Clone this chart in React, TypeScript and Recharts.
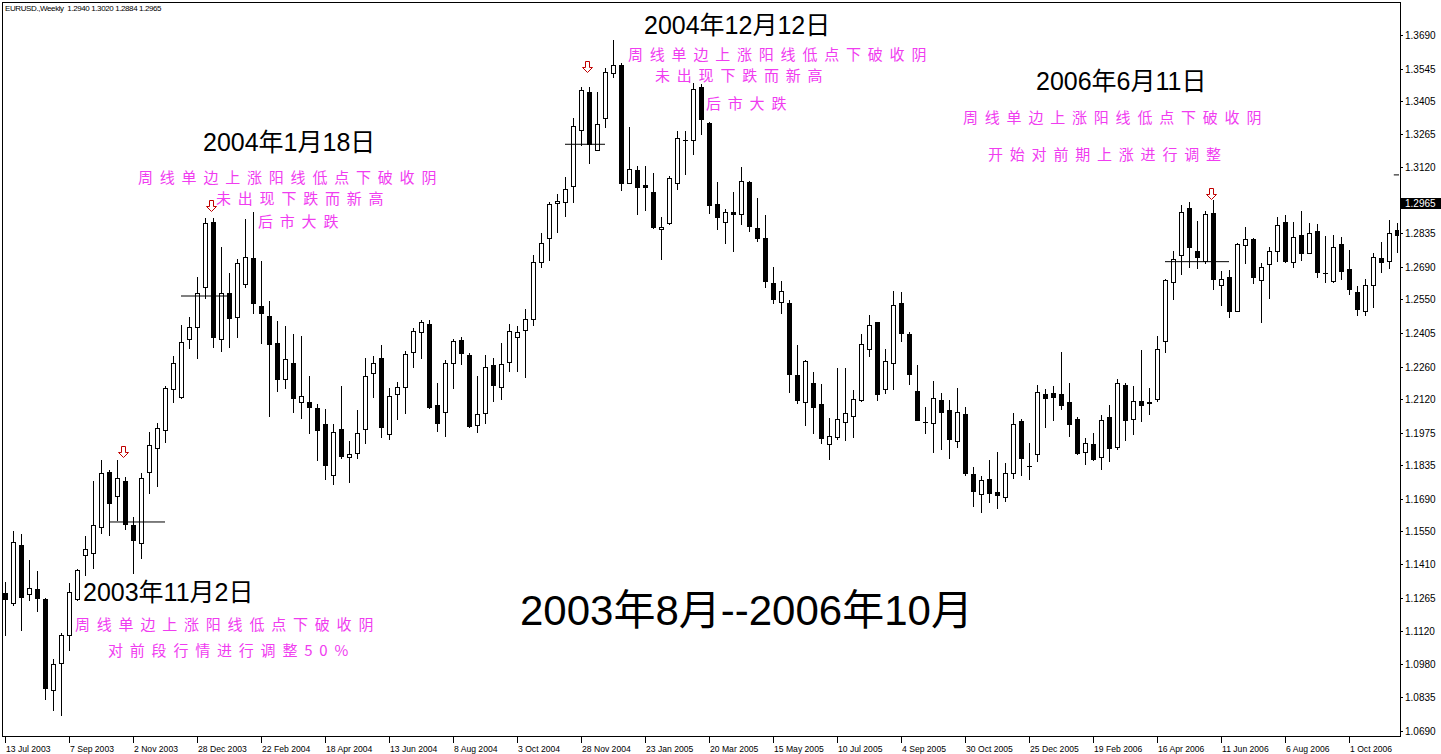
import React from 'react';
import { ComposedChart, Bar, XAxis, YAxis, ReferenceLine, ReferenceDot } from 'recharts';

// weekly EURUSD bars, first bar = week of 13 Jul 2003
const tickLabels = [
  '13 Jul 2003', '7 Sep 2003', '2 Nov 2003', '28 Dec 2003', '22 Feb 2004', '18 Apr 2004',
  '13 Jun 2004', '8 Aug 2004', '3 Oct 2004', '28 Nov 2004', '23 Jan 2005', '20 Mar 2005',
  '15 May 2005', '10 Jul 2005', '4 Sep 2005', '30 Oct 2005', '25 Dec 2005', '19 Feb 2006',
  '16 Apr 2006', '11 Jun 2006', '6 Aug 2006', '1 Oct 2006',
];
const weeksPerLabel = 8;

const priceTicks = [
  1.3690, 1.3545, 1.3405, 1.3265, 1.3120, 1.2965, 1.2835, 1.2690, 1.2550, 1.2405, 1.2260,
  1.2120, 1.1975, 1.1835, 1.1690, 1.1550, 1.1410, 1.1265, 1.1120, 1.0980, 1.0835, 1.0690,
];
const lastPrice = 1.2965;

const opens = [
  1.1285, 1.1242, 1.1492, 1.1281, 1.1302, 1.1261, 1.0867, 1.0984, 1.1104, 1.1259,
  1.1449, 1.1458, 1.1570, 1.1807, 1.1703, 1.1768, 1.1578, 1.1501, 1.1807, 1.1910,
  1.1988, 1.2164, 1.2130, 1.2380, 1.2432, 1.2604, 1.2884, 1.2380, 1.2578, 1.2475,
  1.2617, 1.2729, 1.2520, 1.2479, 1.2363, 1.2208, 1.2276, 1.2108, 1.2108, 1.2083,
  1.2014, 1.1794, 1.1992, 1.1871, 1.1889, 1.1992, 1.2233, 1.2298, 1.1970, 1.2143,
  1.2173, 1.2324, 1.2410, 1.2445, 1.2095, 1.2065, 1.2276, 1.2376, 1.2311, 1.2009,
  1.2061, 1.2268, 1.2173, 1.2281, 1.2389, 1.2419, 1.2466, 1.2712, 1.2814, 1.2965,
  1.2969, 1.3038, 1.3281, 1.3444, 1.3193, 1.3331, 1.3525, 1.3561, 1.3054, 1.3108,
  1.3044, 1.3012, 1.2853, 1.2879, 1.3051, 1.3236, 1.3236, 1.3465, 1.3310, 1.2960,
  1.2883, 1.2926, 1.2917, 1.3055, 1.2857, 1.2814, 1.2620, 1.2539, 1.2535, 1.2225,
  1.2107, 1.2189, 1.2100, 1.1926, 1.1959, 1.2021, 1.2049, 1.2117, 1.2336, 1.2453,
  1.2163, 1.2275, 1.2534, 1.2401, 1.2156, 1.2022, 1.2017, 1.2116, 1.2074, 1.1939,
  1.2057, 1.1797, 1.1713, 1.1775, 1.1719, 1.1698, 1.1804, 1.2027, 1.1831, 1.1886,
  1.2143, 1.2147, 1.2143, 1.2108, 1.2035, 1.1894, 1.1927, 1.1870, 1.2044, 1.1914,
  1.2180, 1.2034, 1.2113, 1.2107, 1.2120, 1.2370, 1.2624, 1.2741, 1.2943, 1.2758,
  1.2717, 1.2922, 1.2611, 1.2646, 1.2502, 1.2784, 1.2811, 1.2633, 1.2702, 1.2758,
  1.2883, 1.2711, 1.2827, 1.2752, 1.2844, 1.2664, 1.2631, 1.2789, 1.2680, 1.2584,
  1.2501, 1.2611, 1.2728, 1.2716, 1.2850,
];
const highs = [
  1.1333, 1.1552, 1.1539, 1.1427, 1.1380, 1.1264, 1.1001, 1.1113, 1.1328, 1.1389,
  1.1531, 1.1768, 1.1858, 1.1815, 1.1858, 1.1785, 1.1613, 1.1802, 1.1979, 1.2018,
  1.2177, 1.2307, 1.2440, 1.2475, 1.2647, 1.2901, 1.2901, 1.2776, 1.2664, 1.2725,
  1.2897, 1.2927, 1.2716, 1.2544, 1.2458, 1.2436, 1.2401, 1.2393, 1.2220, 1.2100,
  1.2078, 1.2014, 1.2177, 1.1940, 1.2074, 1.2298, 1.2307, 1.2354, 1.2169, 1.2195,
  1.2328, 1.2427, 1.2462, 1.2462, 1.2190, 1.2289, 1.2380, 1.2389, 1.2320, 1.2220,
  1.2311, 1.2298, 1.2363, 1.2445, 1.2436, 1.2509, 1.2742, 1.2837, 1.2972, 1.3004,
  1.3078, 1.3331, 1.3465, 1.3467, 1.3443, 1.3547, 1.3669, 1.3571, 1.3292, 1.3126,
  1.3127, 1.3094, 1.2904, 1.3084, 1.3276, 1.3278, 1.3482, 1.3479, 1.3316, 1.3058,
  1.2939, 1.3015, 1.3122, 1.3061, 1.2986, 1.2914, 1.2689, 1.2630, 1.2548, 1.2354,
  1.2289, 1.2238, 1.2186, 1.2038, 1.2255, 1.2255, 1.2160, 1.2401, 1.2483, 1.2455,
  1.2336, 1.2587, 1.2584, 1.2411, 1.2268, 1.2087, 1.2199, 1.2149, 1.2117, 1.2169,
  1.2087, 1.1830, 1.1789, 1.1858, 1.1892, 1.1844, 1.2060, 1.2034, 1.1930, 1.2180,
  1.2164, 1.2177, 1.2324, 1.2189, 1.2044, 1.1952, 1.1974, 1.2051, 1.2095, 1.2208,
  1.2192, 1.2177, 1.2333, 1.2169, 1.2392, 1.2639, 1.2760, 1.2957, 1.2970, 1.2887,
  1.2933, 1.2979, 1.2673, 1.2677, 1.2795, 1.2861, 1.2817, 1.2706, 1.2775, 1.2904,
  1.2914, 1.2883, 1.2933, 1.2879, 1.2874, 1.2825, 1.2828, 1.2818, 1.2762, 1.2610,
  1.2637, 1.2752, 1.2799, 1.2893, 1.2879,
];
const lows = [
  1.1104, 1.1233, 1.1126, 1.1255, 1.1208, 1.0828, 1.0781, 1.0759, 1.1040, 1.1255,
  1.1363, 1.1393, 1.1544, 1.1535, 1.1600, 1.1561, 1.1371, 1.1436, 1.1716, 1.1746,
  1.1936, 1.2108, 1.2126, 1.2341, 1.2298, 1.2557, 1.2345, 1.2328, 1.2345, 1.2389,
  1.2604, 1.2492, 1.2363, 1.2048, 1.2156, 1.2169, 1.2065, 1.2039, 1.1975, 1.1858,
  1.1776, 1.1755, 1.1867, 1.1764, 1.1867, 1.1932, 1.2130, 1.1958, 1.1949, 1.2035,
  1.2061, 1.2259, 1.2298, 1.2083, 1.1983, 1.1962, 1.2169, 1.2272, 1.2001, 1.1979,
  1.2018, 1.2113, 1.2121, 1.2242, 1.2242, 1.2216, 1.2440, 1.2690, 1.2720, 1.2842,
  1.2911, 1.2972, 1.3216, 1.3137, 1.3193, 1.3295, 1.3510, 1.3022, 1.3054, 1.2919,
  1.2936, 1.2858, 1.2726, 1.2874, 1.3025, 1.3090, 1.3176, 1.3263, 1.2922, 1.2853,
  1.2795, 1.2760, 1.2874, 1.2847, 1.2804, 1.2605, 1.2534, 1.2491, 1.2153, 1.2103,
  1.2011, 1.1976, 1.1933, 1.1861, 1.1950, 1.1945, 1.1959, 1.2113, 1.2308, 1.2117,
  1.2149, 1.2166, 1.2373, 1.2187, 1.2032, 1.1974, 1.1894, 1.1907, 1.1868, 1.1916,
  1.1795, 1.1661, 1.1636, 1.1677, 1.1653, 1.1683, 1.1780, 1.1794, 1.1775, 1.1855,
  1.2002, 1.2031, 1.2080, 1.1963, 1.1883, 1.1841, 1.1857, 1.1820, 1.1855, 1.1907,
  1.1946, 1.1972, 1.2028, 1.2058, 1.2114, 1.2325, 1.2551, 1.2660, 1.2691, 1.2685,
  1.2709, 1.2594, 1.2528, 1.2476, 1.2499, 1.2706, 1.2623, 1.2455, 1.2555, 1.2717,
  1.2713, 1.2691, 1.2720, 1.2749, 1.2648, 1.2627, 1.2627, 1.2637, 1.2573, 1.2483,
  1.2483, 1.2519, 1.2670, 1.2687, 1.2756,
];
const closes = [
  1.1259, 1.1505, 1.1268, 1.1307, 1.1264, 1.0876, 1.0979, 1.1104, 1.1290, 1.1384,
  1.1475, 1.1578, 1.1802, 1.1673, 1.1781, 1.1583, 1.1514, 1.1781, 1.1923, 1.1996,
  1.2169, 1.2276, 1.2367, 1.2432, 1.2578, 1.2880, 1.2389, 1.2578, 1.2470, 1.2707,
  1.2733, 1.2535, 1.2492, 1.2358, 1.2208, 1.2294, 1.2126, 1.2134, 1.2087, 1.1988,
  1.1837, 1.1979, 1.1876, 1.1884, 1.1975, 1.2220, 1.2276, 1.2001, 1.2136, 1.2173,
  1.2315, 1.2414, 1.2453, 1.2087, 1.2018, 1.2276, 1.2371, 1.2320, 1.2005, 1.2057,
  1.2259, 1.2182, 1.2272, 1.2414, 1.2410, 1.2466, 1.2712, 1.2792, 1.2962, 1.2973,
  1.3025, 1.3297, 1.3453, 1.3219, 1.3305, 1.3529, 1.3560, 1.3051, 1.3111, 1.3036,
  1.3034, 1.2864, 1.2861, 1.3073, 1.3245, 1.3236, 1.3456, 1.3327, 1.2956, 1.2904,
  1.2929, 1.2917, 1.3060, 1.2868, 1.2817, 1.2631, 1.2552, 1.2587, 1.2230, 1.2118,
  1.2285, 1.2088, 1.1954, 1.1961, 1.2034, 1.2060, 1.2120, 1.2357, 1.2439, 1.2144,
  1.2284, 1.2525, 1.2405, 1.2230, 1.2032, 1.2022, 1.2124, 1.2067, 1.1948, 1.2065,
  1.1801, 1.1726, 1.1771, 1.1718, 1.1709, 1.1804, 1.2012, 1.1868, 1.1831, 1.2150,
  1.2127, 1.2131, 1.2097, 1.2015, 1.1889, 1.1930, 1.1864, 1.2030, 1.1911, 1.2189,
  1.2032, 1.2111, 1.2097, 1.2103, 1.2336, 1.2633, 1.2723, 1.2926, 1.2775, 1.2735,
  1.2917, 1.2637, 1.2637, 1.2502, 1.2789, 1.2810, 1.2648, 1.2689, 1.2758, 1.2870,
  1.2717, 1.2821, 1.2749, 1.2836, 1.2670, 1.2664, 1.2778, 1.2672, 1.2597, 1.2508,
  1.2614, 1.2735, 1.2713, 1.2838, 1.2828,
];

// hand-drawn horizontal lines: [fromBar, toBar, price]
const levelLines = [
  [13.1, 20, 1.1591],
  [22, 27.9, 1.2565],
  [70, 75, 1.3219],
  [145, 153, 1.2713],
];
// signal arrows: [bar, price]
const arrows = [
  [14.75, 1.1894],
  [25.8, 1.2953],
  [72.8, 1.3552],
  [150.8, 1.3005],
];

const data = opens.map((o, i) => ({
  i,
  open: o,
  high: highs[i],
  low: lows[i],
  close: closes[i],
  range: [lows[i], highs[i]],
}));

const yMin = 1.06685;
const yMax = 1.38279;
const xMin = -0.25;
const xMax = 174.25;

const tickFont = '"Liberation Sans", Arial, sans-serif';

const Candle = (props: any) => {
  const { x, y, width, height, payload } = props;
  if (x == null || y == null) return null;
  const cx = Math.round(x + width / 2);
  const top = Math.min(y, y + height);
  const h = Math.abs(height);
  const span = payload.high - payload.low;
  const py = (p: number) => (span > 0 ? top + ((payload.high - p) / span) * h : top);
  const yo = py(payload.open);
  const yc = py(payload.close);
  const bull = payload.close >= payload.open;
  const bt = Math.round(Math.min(yo, yc));
  const bb = Math.round(Math.max(yo, yc));
  const wt = Math.round(top);
  const wb = Math.round(top + h);
  return (
    <g>
      <line x1={cx + 0.5} x2={cx + 0.5} y1={wt} y2={wb + 1} stroke="#000" strokeWidth={1} />
      {bb - bt < 1 ? (
        <line x1={cx - 2} x2={cx + 3} y1={bt + 0.5} y2={bt + 0.5} stroke="#000" strokeWidth={1} />
      ) : (
        <rect
          x={cx - 1.5}
          y={bt + 0.5}
          width={4}
          height={bb - bt}
          fill={bull ? '#fff' : '#000'}
          stroke="#000"
          strokeWidth={1}
        />
      )}
    </g>
  );
};

const XTick = (props: any) => {
  const { x, payload } = props;
  const label = tickLabels[Math.round(payload.value / weeksPerLabel)];
  const px = Math.round(x);
  return (
    <g>
      <line x1={px + 0.5} x2={px + 0.5} y1={737} y2={743} stroke="#000" />
      <text x={px + 1} y={752} fontSize={8.6} fontFamily={tickFont} fill="#000">
        {label}
      </text>
    </g>
  );
};

const YTick = (props: any) => {
  const { y, payload } = props;
  const v = payload.value;
  const py = Math.round(y);
  if (v === lastPrice) {
    return (
      <g>
        <rect x={1400} y={py - 5} width={41} height={11} fill="#000" />
        <text x={1405} y={py + 4} fontSize={10} fontFamily={tickFont} fill="#fff">
          {v.toFixed(4)}
        </text>
      </g>
    );
  }
  return (
    <g>
      <line x1={1400} x2={1403} y1={py + 0.5} y2={py + 0.5} stroke="#000" />
      <text x={1405} y={py + 4} fontSize={10} fontFamily={tickFont} fill="#000">
        {v.toFixed(4)}
      </text>
    </g>
  );
};

const ArrowMark = (props: any) => {
  const { cx, cy } = props;
  const x = Math.round(cx) + 0.5;
  const y = Math.round(cy) + 0.5;
  const d = `M${x - 2},${y - 6} L${x + 2},${y - 6} L${x + 2},${y} L${x + 5},${y} L${x},${y + 5} L${x - 5},${y} L${x - 2},${y} Z`;
  return <path d={d} fill="#fff" stroke="#c00000" strokeWidth={1} />;
};

const Note = ({ x, y, size, color, spacing, family, children }: any) => (
  <div
    style={{
      position: 'absolute',
      left: x,
      top: y - size / 2,
      fontSize: size,
      lineHeight: `${size}px`,
      color,
      letterSpacing: spacing || 0,
      fontFamily: family,
      whiteSpace: 'nowrap',
    }}
  >
    {children}
  </div>
);

const dateFont = '"Liberation Sans", "Noto Sans CJK SC", sans-serif';
const cnFont = '"Noto Sans CJK SC", sans-serif';
const pink = '#f03cf0';

export default function App() {
  return (
    <div style={{ position: 'absolute', left: 0, top: 0, width: 1441, height: 754, background: '#fff', overflow: 'hidden' }}>
      <ComposedChart width={1441} height={754} data={data} margin={{ top: 3, right: 0, bottom: 0, left: 3 }}>
        <XAxis
          type="number"
          dataKey="i"
          domain={[xMin, xMax]}
          allowDataOverflow
          ticks={tickLabels.map((_, k) => k * weeksPerLabel)}
          tick={<XTick />}
          interval={0}
          axisLine={false}
          tickLine={false}
          height={18}
        />
        <YAxis
          orientation="right"
          type="number"
          domain={[yMin, yMax]}
          allowDataOverflow
          ticks={priceTicks}
          tick={<YTick />}
          interval={0}
          axisLine={false}
          tickLine={false}
          width={42}
        />
        <Bar dataKey="range" barSize={5} isAnimationActive={false} shape={(p: any) => <Candle {...p} />} />
        {levelLines.map(([a, b, p], k) => (
          <ReferenceLine
            key={'l' + k}
            segment={[{ x: a, y: p }, { x: b, y: p }]}
            stroke="#000"
            strokeWidth={1}
          />
        ))}
        <ReferenceLine segment={[{ x: 173.6, y: 1.3087 }, { x: xMax, y: 1.3087 }]} stroke="#000" />
        {arrows.map(([a, p], k) => (
          <ReferenceDot key={'a' + k} x={a} y={p} r={5} shape={(sp: any) => <ArrowMark {...sp} />} />
        ))}
      </ComposedChart>

      <div style={{ position: 'absolute', left: 2, top: 2, width: 1397, height: 733, border: '1px solid #000', pointerEvents: 'none' }} />

      <Note x={5} y={9} size={8} color="#000" spacing={-0.4} family={tickFont}>
        EURUSD.,Weekly&nbsp;&nbsp;1.2940 1.3020 1.2884 1.2965
      </Note>

      <Note x={644} y={25} size={25} color="#000" family={dateFont}>2004年12月12日</Note>
      <Note x={628} y={53} size={15} color={pink} spacing={6.8} family={cnFont}>周线单边上涨阳线低点下破收阴</Note>
      <Note x={655} y={74} size={15} color={pink} spacing={6.8} family={cnFont}>未出现下跌而新高</Note>
      <Note x={706} y={102} size={15} color={pink} spacing={6.8} family={cnFont}>后市大跌</Note>

      <Note x={203} y={142} size={25} color="#000" family={dateFont}>2004年1月18日</Note>
      <Note x={138} y={176} size={15} color={pink} spacing={6.8} family={cnFont}>周线单边上涨阳线低点下破收阴</Note>
      <Note x={216} y={197} size={15} color={pink} spacing={6.8} family={cnFont}>未出现下跌而新高</Note>
      <Note x={258} y={220} size={15} color={pink} spacing={6.8} family={cnFont}>后市大跌</Note>

      <Note x={1036} y={81} size={25} color="#000" family={dateFont}>2006年6月11日</Note>
      <Note x={963} y={116} size={15} color={pink} spacing={6.8} family={cnFont}>周线单边上涨阳线低点下破收阴</Note>
      <Note x={988} y={153} size={15} color={pink} spacing={6.8} family={cnFont}>开始对前期上涨进行调整</Note>

      <Note x={83} y={592} size={25} color="#000" family={dateFont}>2003年11月2日</Note>
      <Note x={75} y={623} size={15} color={pink} spacing={6.8} family={cnFont}>周线单边上涨阳线低点下破收阴</Note>
      <Note x={108} y={649} size={15} color={pink} spacing={6.8} family={cnFont}>对前段行情进行调整50%</Note>

      <Note x={520} y={611} size={42} color="#000" family={dateFont}>2003年8月--2006年10月</Note>
    </div>
  );
}
